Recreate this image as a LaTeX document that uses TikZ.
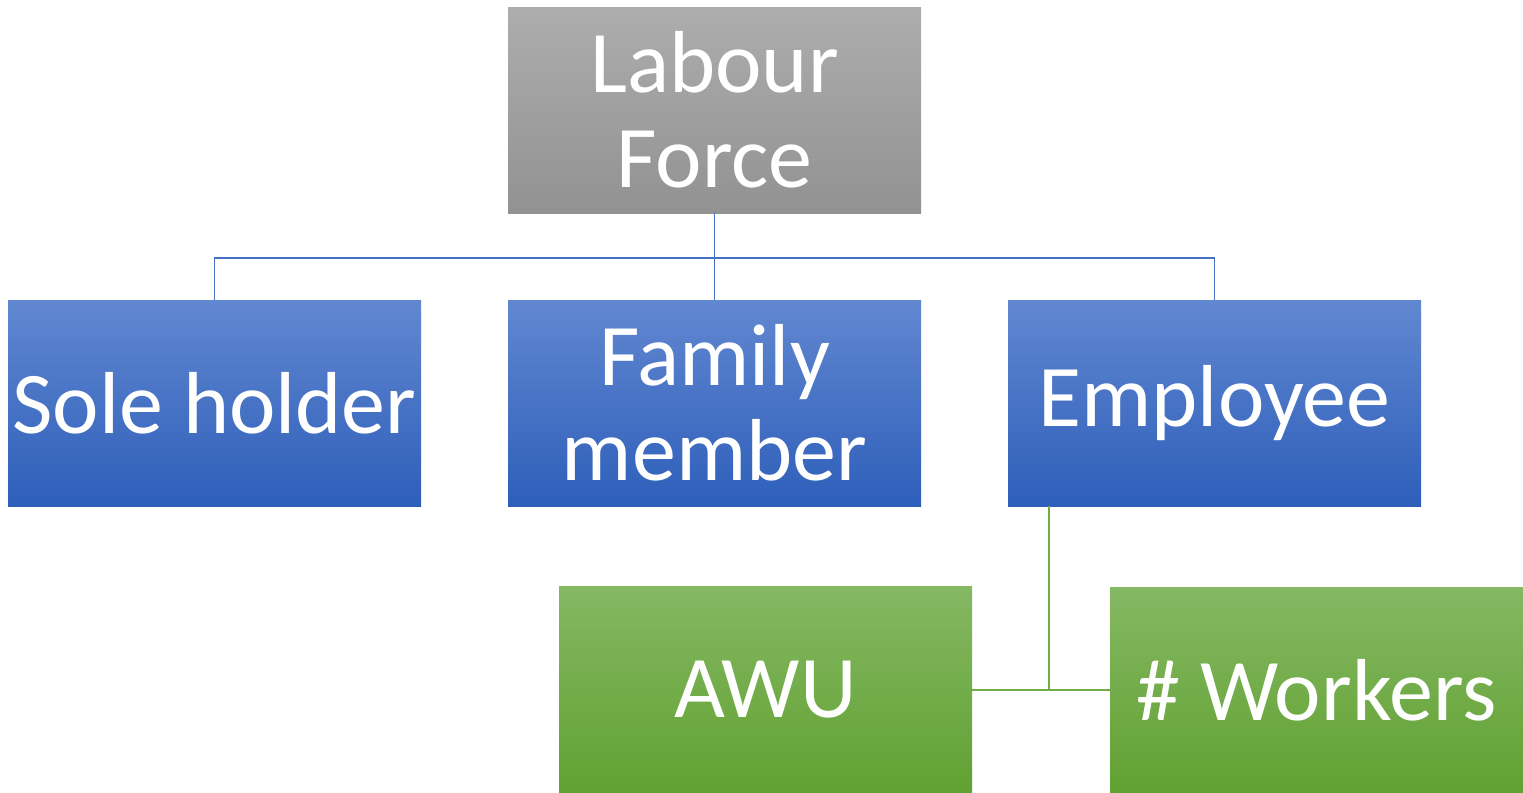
\documentclass[tikz,border=0pt]{standalone}
\usepackage{fontspec}
\setmainfont{Carlito}
\usetikzlibrary{positioning}
\definecolor{grayTop}{HTML}{ADADAD}
\definecolor{grayBot}{HTML}{929292}
\definecolor{blueTop}{HTML}{6187D0}
\definecolor{blueBot}{HTML}{2E5FBA}
\definecolor{greenTop}{HTML}{85B863}
\definecolor{greenBot}{HTML}{61A132}
\definecolor{blueLine}{HTML}{4472C4}
\definecolor{greenLine}{HTML}{70AD47}
\begin{document}
\begin{tikzpicture}[x=0.5pt, y=-0.5pt,
box/.style={rectangle, inner sep=0pt, minimum width=206.5pt, minimum height=103pt,
  text=white, align=center, font=\fontsize{44}{47.5}\selectfont},
grayBox/.style={box, top color=grayTop, bottom color=grayBot},
blueBox/.style={box, top color=blueTop, bottom color=blueBot},
greenBox/.style={box, top color=greenTop, bottom color=greenBot},
blueLink/.style={blueLine, line width=0.7pt},
greenLink/.style={greenLine, line width=0.7pt}]

\useasboundingbox (0,0) rectangle (1523,793);

% top level
\node[grayBox] (labour) at (714.5,110) {Labour\\Force};

% second level
\node[blueBox] (sole) at (214.5,403) {Sole holder};
\node[blueBox] (family) at (714.5,403) {Family\\member};
\node[blueBox] (employee) at (1214.5,403) {Employee};

% third level
\node[greenBox] (awu) at (765.5,689.5) {AWU};
\node[greenBox] (workers) at (1316.5,690) {\# Workers};

% connectors
\coordinate (fork) at (714.5,258);
\draw[blueLink] (labour.south) -- (fork);
\draw[blueLink] (fork) -| (sole.north);
\draw[blueLink] (fork) -- (family.north);
\draw[blueLink] (fork) -| (employee.north);

\coordinate (drop) at (1049,506);
\coordinate (joint) at (1049,690);
\draw[greenLink] (drop) -- (joint);
\draw[greenLink] (joint) -- (awu.east |- joint);
\draw[greenLink] (joint) -- (workers.west |- joint);

\end{tikzpicture}
\end{document}
